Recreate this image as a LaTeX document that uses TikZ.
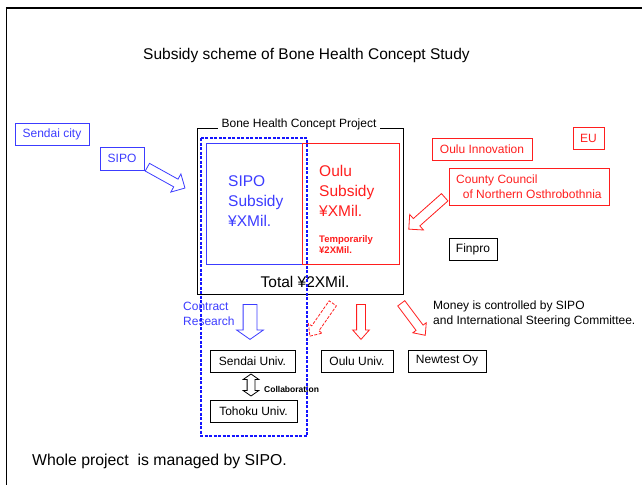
\documentclass[tikz,border=0pt]{standalone}
\usepackage{fontspec}
\setmainfont{Liberation Sans}
\usetikzlibrary{shapes.arrows}
\definecolor{bl}{RGB}{60,60,255}
\definecolor{bld}{RGB}{20,20,255}
\definecolor{rd}{RGB}{255,30,30}
\begin{document}
\begin{tikzpicture}[x=1pt,y=-1pt,
  lbl/.style={font=\fontsize{12}{14}\selectfont},
  big/.style={font=\fontsize{15.5}{20}\selectfont},
  box/.style={draw, line width=0.8pt, inner sep=0pt, lbl},
  bbox/.style={box, draw=bl, text=bl},
  rbox/.style={box, draw=rd, text=rd},
  harrow/.style n args={4}{single arrow, draw, line width=0.8pt, minimum height=#1,
     inner xsep=0pt, inner ysep=#2, single arrow head extend=#3, single arrow tip angle=#4,
     anchor=tail}
]
\useasboundingbox (0,0) rectangle (642,485);
% frame
\draw[line width=2pt] (5.8,8) -- (642,8);
\draw[line width=1.4pt] (6.5,8) -- (6.5,485);

% title
\node[font=\fontsize{15.5}{18}\selectfont] (title) at (306.5,55) {Subsidy scheme of Bone Health Concept Study};

% funders
\node[bbox, minimum width=74pt, minimum height=22pt] (sendaicity) at (52,134) {Sendai city};
\node[bbox, minimum width=44pt, minimum height=23pt] (sipo) at (122,158.5) {SIPO};
\node[rbox, minimum width=100pt, minimum height=22pt] (ouluinno) at (482,149) {Oulu Innovation};
\node[rbox, minimum width=31pt, minimum height=22pt] (eu) at (588.5,138) {EU};
\node[rbox, minimum width=160pt, minimum height=37pt] (county) at (529,186.5) {};
\node[lbl, text=rd, align=left, anchor=west, inner sep=0pt, font=\fontsize{12}{15}\selectfont] (countytxt) at (456,186.5) {County Council\\\ \ of Northern Osthrobothnia};
\node[box, minimum width=48pt, minimum height=22pt] (finpro) at (473,249.5) {Finpro};

% project box
\draw[line width=0.8pt] (197,128) rectangle (403,294);
\node[lbl, fill=white, inner xsep=4pt, inner ysep=1pt] (projtitle) at (299,124) {Bone Health Concept Project};
\draw[bl, line width=0.8pt] (206,143) rectangle (302,264);
\draw[rd, line width=0.8pt] (302.5,143) rectangle (399,264);
\node[big, text=bl, align=left, anchor=west, inner sep=0pt] (siposub) at (228,201) {SIPO\\Subsidy\\¥XMil.};
\node[big, text=rd, align=left, anchor=west, inner sep=0pt] (oulusub) at (319,191) {Oulu\\Subsidy\\¥XMil.};
\node[text=rd, align=left, anchor=west, inner sep=0pt, font=\fontsize{9.5}{11}\selectfont\bfseries] (temp) at (319,244.5) {Temporarily\\¥2XMil.};
\node[big, inner sep=0pt] (total) at (305,282) {Total ¥2XMil.};

% arrows
\node[harrow={43pt}{4pt}{6pt}{90}, draw=bl, rotate=-29] (a1) at (147,167) {};
\node[harrow={48pt}{4.5pt}{5.5pt}{90}, draw=rd, rotate=-138.4] (a2) at (445,197) {};
\node[harrow={35pt}{6.5pt}{6.5pt}{110}, draw=bl, rotate=-90] (a3) at (250,304) {};
\node[harrow={40pt}{4pt}{4pt}{83}, draw=rd, dashed, dash pattern=on 3pt off 1.5pt, rotate=-124.9] (a4) at (333,303) {};
\node[harrow={35pt}{4pt}{4pt}{83}, draw=rd, rotate=-90] (a5) at (361,304) {};
\node[harrow={40pt}{4pt}{4pt}{83}, draw=rd, rotate=-53.1] (a6) at (401,303) {};

% texts
\node[lbl, text=bl, align=left, anchor=west, inner sep=0pt, font=\fontsize{12}{15}\selectfont] (contract) at (183,313.5) {Contract\\Research};
\node[lbl, align=left, anchor=west, inner sep=0pt, font=\fontsize{12}{15}\selectfont] (money) at (433,313.5) {Money is controlled by SIPO\\and International Steering Committee.};

% universities
\node[box, minimum width=85pt, minimum height=22pt] (sendaiu) at (252.5,361) {Sendai Univ.};
\node[box, minimum width=72pt, minimum height=22pt] (oulu) at (357,361) {Oulu Univ.};
\node[box, minimum width=78pt, minimum height=22pt] (newtest) at (447,361) {Newtest Oy};
\node[box, minimum width=87pt, minimum height=22pt] (tohoku) at (253.5,411) {Tohoku Univ.};
\node[double arrow, draw, line width=0.8pt, rotate=90, minimum height=22pt, inner xsep=0pt, inner ysep=3.5pt,
  double arrow head extend=4pt, double arrow tip angle=110] (collab) at (251,385) {};
\node[anchor=west, inner sep=0pt, font=\fontsize{8.5}{10}\selectfont\bfseries] (collabtxt) at (264,389) {Collaboration};

% dashed blue region
\draw[bld, line width=1.1pt, dash pattern=on 3pt off 1.5pt] (201,138) rectangle (307,436);

\node[anchor=west, inner sep=0pt, font=\fontsize{15.8}{18}\selectfont] (whole) at (32,461) {Whole project\ \ is managed by SIPO.};
\end{tikzpicture}
\end{document}
